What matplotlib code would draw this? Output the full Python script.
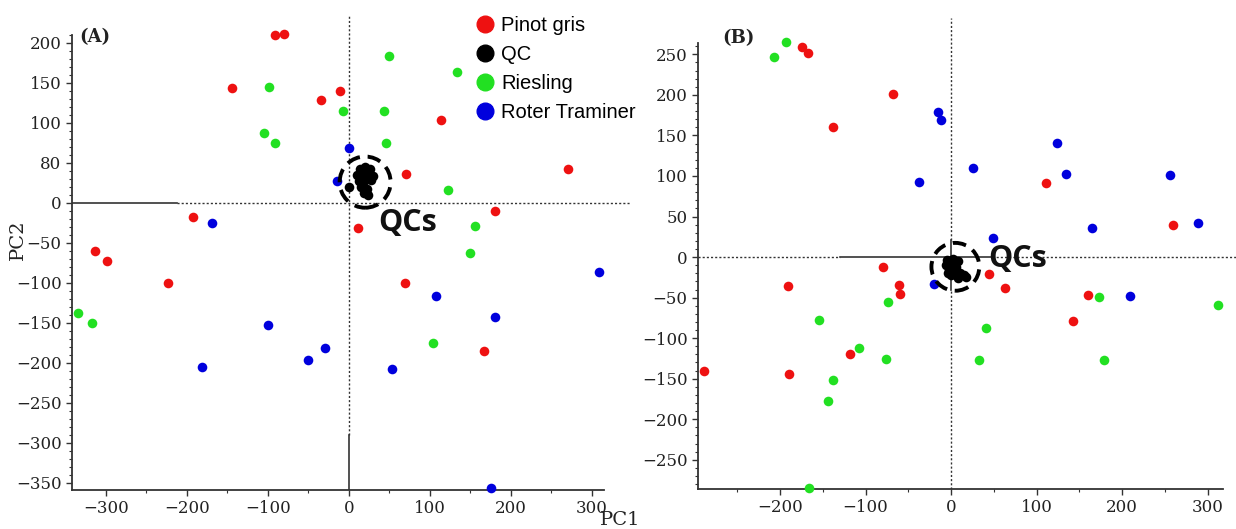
import matplotlib.pyplot as plt
from matplotlib.patches import Ellipse
from matplotlib.lines import Line2D

# ------------------------- Data -------------------------
# Panel A
a_pinot_x = [-91, -80, -144, -35, -11, 114, 270, 70, 181, 11, -193, -314, -299, -223, 69, 167]
a_pinot_y = [210, 211, 144, 129, 140, 104, 43, 36, -10, -31, -18, -60, -72, -100, -100, -185]
a_ries_x = [-99, -105, -91, 49, 133, -7, 43, 46, 122, 156, 149, -334, -317, 104]
a_ries_y = [145, 88, 75, 184, 164, 115, 115, 75, 16, -29, -62, -138, -150, -175]
a_roter_x = [-169, 0, -15, -181, -100, -50, -30, 309, 107, 181, 53, 175]
a_roter_y = [-25, 69, 27, -205, -153, -197, -181, -87, -116, -143, -208, -357]
a_qc_x = [14, 20, 26, 10, 17, 24, 30, 12, 19, 27, 15, 22, 18, 24, 0]
a_qc_y = [42, 45, 43, 35, 36, 37, 34, 28, 27, 29, 20, 18, 12, 10, 20]
a_yticks = [-350, -300, -250, -200, -150, -100, -50, 0, 50, 100, 150, 200]
a_yticklabels = ["−350", "−300", "−250", "−200", "−150", "−100", "−50", "0", "80", "100", "150", "200"]
a_xticks = [-300, -200, -100, 0, 100, 200, 300]

# Panel B
b_pinot_x = [-174, -167, -68, -138, 111, 260, -80, -61, -60, -191, -118, -289, -189, 44, 63, 160, 142]
b_pinot_y = [259, 252, 201, 161, 91, 40, -12, -35, -46, -36, -119, -141, -144, -21, -38, -47, -79]
b_ries_x = [-207, -193, -74, -154, -108, -76, -138, -144, -166, 173, 312, 41, 33, 179]
b_ries_y = [247, 265, -56, -78, -112, -126, -151, -177, -285, -49, -59, -88, -127, -127]
b_roter_x = [-37, -15, -12, 124, 26, 134, 256, 165, 289, 49, -20, 209]
b_roter_y = [93, 179, 169, 141, 110, 102, 101, 36, 42, 23, -33, -48]
b_qc_x = [-5, 2, 8, -6, 0, 6, -3, 3, 10, 15, 18, 8, 0, -4]
b_qc_y = [-3, -2, -5, -10, -9, -12, -16, -17, -20, -22, -25, -26, -22, -20]
b_yticks = [-250, -200, -150, -100, -50, 0, 50, 100, 150, 200, 250]
b_xticks = [-200, -100, 0, 100, 200, 300]

groups = ["Pinot gris", "QC", "Riesling", "Roter Traminer"]
colors = {"Pinot gris": "#ee1111", "QC": "#000000", "Riesling": "#22e022", "Roter Traminer": "#0000dd"}

plt.rcParams["font.family"] = "DejaVu Serif"

fig = plt.figure(figsize=(12.36, 5.29), dpi=100)
axA = fig.add_axes([72/1236, 1-490/529, (604-72)/1236, (490-35)/529])
axB = fig.add_axes([698/1236, 1-489/529, (1223-698)/1236, (489-43)/529])


def style_axes(ax):
    for s in ["top", "right"]:
        ax.spines[s].set_visible(False)
    for s in ["left", "bottom"]:
        ax.spines[s].set_color("#333333")
        ax.spines[s].set_linewidth(1.3)
    ax.tick_params(which="major", direction="out", length=4, width=1, colors="#333333",
                   labelsize=12, labelcolor="#222222")
    ax.tick_params(which="minor", direction="out", length=2, width=0.8, colors="#333333")


def scatter_all(ax, px, py, rx, ry, bx, by, qx, qy):
    kw = dict(s=48, zorder=3, linewidths=0, clip_on=False)
    ax.scatter(px, py, color=colors["Pinot gris"], **kw)
    ax.scatter(rx, ry, color=colors["Riesling"], **kw)
    ax.scatter(bx, by, color=colors["Roter Traminer"], **kw)
    ax.scatter(qx, qy, color=colors["QC"], **kw)


# ------------------------- Panel A -------------------------
scatter_all(axA, a_pinot_x, a_pinot_y, a_ries_x, a_ries_y, a_roter_x, a_roter_y, a_qc_x, a_qc_y)
axA.set_xlim(-342, 315)
axA.set_ylim(-359, 210)
axA.set_yticks(a_yticks)
axA.set_yticklabels(a_yticklabels)
axA.set_xticks(a_xticks)
axA.set_yticks(range(-350, 211, 10), minor=True)
axA.set_xticks(range(-300, 301, 50), minor=True)
style_axes(axA)

# zero lines
axA.plot([-342, -212], [0, 0], color="#333333", lw=1.2, zorder=2)
axA.plot([-212, 347], [0, 0], color="#333333", lw=1.0, ls=(0, (1.5, 1.5)), clip_on=False, zorder=2)
axA.plot([0, 0], [-290, 235], color="#333333", lw=1.0, ls=(0, (1.5, 1.5)), clip_on=False, zorder=2)
axA.plot([0, 0], [-359, -290], color="#333333", lw=1.2, zorder=2)

axA.add_patch(Ellipse((20, 26), 63, 64, fill=False, ec="black", lw=2.8,
                      ls=(0, (3.5, 2)), zorder=5))
axA.text(36, -25, "QCs", fontsize=22, fontweight="bold", family="Open Sans",
         va="center", ha="left", color="#111111")
axA.text(-333, 207, "(A)", fontsize=13, fontweight="bold",
         va="center", ha="left", color="#222222")

handles = [Line2D([], [], marker="o", ls="", markersize=12, color=colors[g]) for g in groups]
fig.legend(handles, groups, loc="upper left", bbox_to_anchor=(463/1236, 1-8/529),
           frameon=False, prop={"family": "Liberation Sans", "size": 14.5},
           handletextpad=0.1, labelspacing=0.5, borderaxespad=0, handlelength=1.4)

# ------------------------- Panel B -------------------------
scatter_all(axB, b_pinot_x, b_pinot_y, b_ries_x, b_ries_y, b_roter_x, b_roter_y, b_qc_x, b_qc_y)
axB.set_xlim(-296, 318)
axB.set_ylim(-286, 264)
axB.set_yticks(b_yticks)
axB.set_xticks(b_xticks)
axB.set_yticks(range(-280, 261, 10), minor=True)
axB.set_xticks(range(-250, 301, 50), minor=True)
style_axes(axB)

axB.plot([-296, -130], [0, 0], color="#333333", lw=1.0, ls=(0, (1.5, 1.5)), zorder=2)
axB.plot([-130, 48], [0, 0], color="#333333", lw=1.2, zorder=2)
axB.plot([48, 333], [0, 0], color="#333333", lw=1.0, ls=(0, (1.5, 1.5)), clip_on=False, zorder=2)
axB.plot([0, 0], [21, 295], color="#333333", lw=1.0, ls=(0, (1.5, 1.5)), clip_on=False, zorder=2)
axB.plot([0, 0], [-40, 21], color="#333333", lw=1.2, zorder=2)
axB.plot([0, 0], [-286, -40], color="#333333", lw=1.0, ls=(0, (1.5, 1.5)), zorder=2)

axB.add_patch(Ellipse((5, -12), 56, 59, fill=False, ec="black", lw=2.8,
                      ls=(0, (3.5, 2)), zorder=5))
axB.text(43, -2, "QCs", fontsize=22, fontweight="bold", family="Open Sans",
         va="center", ha="left", color="#111111")
axB.text(-268, 270, "(B)", fontsize=13, fontweight="bold",
         va="center", ha="left", color="#222222", clip_on=False)

# ------------------------- Axis titles -------------------------
fig.text(18/1236, 1-240/529, "PC2", rotation=90, fontsize=14,
         va="center", ha="center", color="#222222")
fig.text(620/1236, 1-520/529, "PC1", fontsize=14,
         va="center", ha="center", color="#222222")

fig.savefig("out.png", dpi=100)
